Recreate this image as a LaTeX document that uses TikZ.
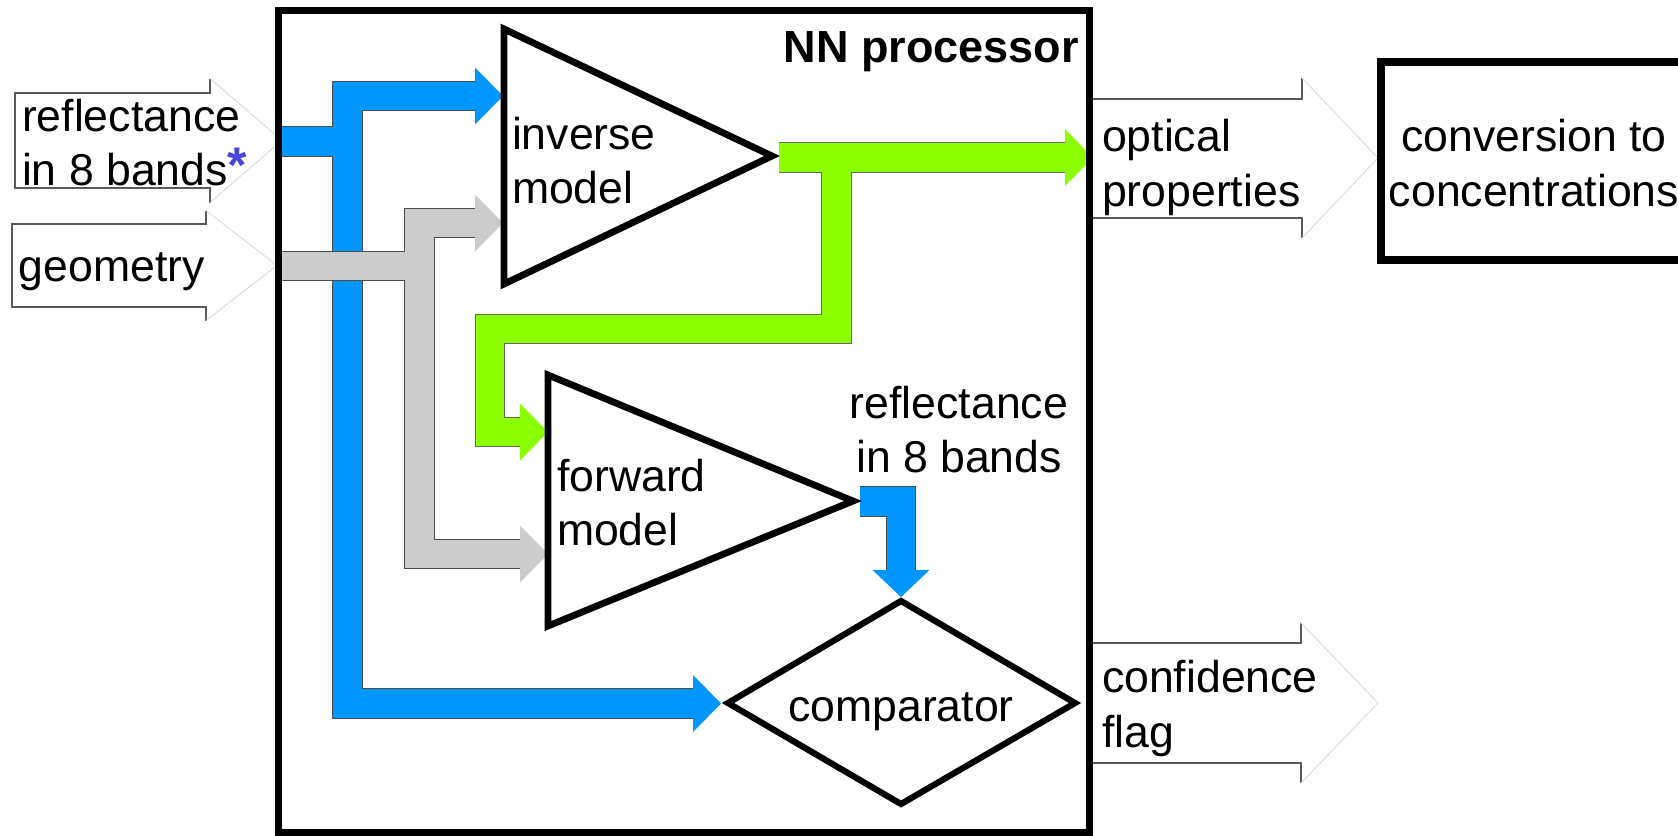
\documentclass[tikz,border=0pt]{standalone}
\usepackage{fontspec}
\setmainfont{Liberation Sans}
\usetikzlibrary{calc}
\definecolor{flowblue}{RGB}{0,150,255}
\definecolor{flowgreen}{RGB}{140,255,0}
\definecolor{flowgray}{RGB}{204,204,204}
\definecolor{astblue}{RGB}{70,70,220}
\definecolor{edgegray}{RGB}{90,90,90}
\definecolor{tipgray}{RGB}{215,215,215}
\newcommand{\flowheadR}[2]{\fill[#1] ($(#2)+(-28,-28.5)$) -- (#2) -- ($(#2)+(-28,28.5)$) -- cycle;}
\newcommand{\flowheadD}[2]{\fill[#1] ($(#2)+(-28.5,-27)$) -- (#2) -- ($(#2)+(28.5,-27)$) -- cycle;}
\begin{document}
\begin{tikzpicture}[x=1pt,y=-1pt,
  lbl/.style={font=\fontsize{44.6pt}{52pt}\selectfont, inner sep=0pt, outer sep=0pt},
  blockline/.style={line width=6.8pt, line join=miter, draw=black},
  bandout/.style={line width=30.5pt, draw=black!70, line join=miter, line cap=butt},
  band/.style={line width=28.5pt, draw=#1, line join=miter, line cap=butt},
  ioedge/.style={draw=edgegray, line width=1.2pt},
  iotip/.style={draw=tipgray, line width=0.8pt},
]
\useasboundingbox (0,0) rectangle (1678,835);
\clip (0,0) rectangle (1678,835);
\fill[white] (0,0) rectangle (1678,835);

% ---- shape coordinates
\coordinate (invTL) at (504,29);
\coordinate (invBL) at (504,284);
\coordinate (invTip) at (772,156);
\coordinate (fwdTL) at (548,375);
\coordinate (fwdBL) at (548,626);
\coordinate (fwdTip) at (853,501);
\coordinate (cmpW) at (728,703);
\coordinate (cmpN) at (901,601);
\coordinate (cmpE) at (1075,703);
\coordinate (cmpS) at (901,804);

% ---- flow coordinates
\coordinate (inRef) at (279,141.5);
\coordinate (bJoin) at (347.5,141.5);
\coordinate (bUp) at (347.5,96);
\coordinate (bUpEnd) at (476,96);
\coordinate (bUpTip) at (503,96);
\coordinate (bDownTop) at (347.5,130);
\coordinate (bDown) at (347.5,703.5);
\coordinate (bDownEnd) at (694,703.5);
\coordinate (bDownTip) at (721,703.5);

\coordinate (inGeo) at (279,266);
\coordinate (gJoin) at (419.5,266);
\coordinate (gUp) at (419.5,223);
\coordinate (gUpEnd) at (476,223);
\coordinate (gUpTip) at (503,223);
\coordinate (gDownTop) at (419.5,255);
\coordinate (gDown) at (419.5,554);
\coordinate (gDownEnd) at (521,554);
\coordinate (gDownTip) at (548,554);

\coordinate (grStart) at (779,157.5);
\coordinate (grEnd) at (1066,157.5);
\coordinate (grTip) at (1093,157.5);
\coordinate (fbTop) at (836.5,165);
\coordinate (fb1) at (836.5,329);
\coordinate (fb2) at (490,329);
\coordinate (fb3) at (490,432);
\coordinate (fbEnd) at (521,432);
\coordinate (fbTip) at (548,432);

\coordinate (sStart) at (860,501.5);
\coordinate (sCorner) at (901,501.5);
\coordinate (sEnd) at (901,571);
\coordinate (sTip) at (901,597);

% ---- input / output outline arrows
\draw[ioedge] (210,78.5) -- (210,93) -- (15,93) -- (15,188) -- (210,188) -- (210,202.5);
\draw[iotip] (210,78.5) -- (282,140.5) -- (210,202.5);
\draw[ioedge] (206,210.5) -- (206,224) -- (12,224) -- (12,307) -- (206,307) -- (206,320.5);
\draw[iotip] (206,210.5) -- (277,265.5) -- (206,320.5);
\draw[ioedge] (1302,78) -- (1302,99) -- (1089,99);
\draw[ioedge] (1089,218) -- (1302,218) -- (1302,238);
\draw[iotip] (1302,78) -- (1378,158) -- (1302,238);
\draw[ioedge] (1301,623) -- (1301,643) -- (1089,643);
\draw[ioedge] (1089,763) -- (1301,763) -- (1301,783);
\draw[iotip] (1301,623) -- (1378,703) -- (1301,783);

% ---- blue flows
\draw[bandout] (inRef) -- (bJoin) -- (bUp) -- (bUpEnd);
\draw[bandout] (bDownTop) -- (bDown) -- (bDownEnd);
\draw[bandout] (sStart) -- (sCorner) -- (sEnd);
\draw[band=flowblue] (inRef) -- (bJoin) -- (bUp) -- (bUpEnd);
\draw[band=flowblue] (bDownTop) -- (bDown) -- (bDownEnd);
\draw[band=flowblue] (sStart) -- (sCorner) -- (sEnd);
\flowheadR{flowblue}{bUpTip}
\flowheadR{flowblue}{bDownTip}
\flowheadD{flowblue}{sTip}

% ---- gray flows
\draw[bandout] (inGeo) -- (gJoin) -- (gUp) -- (gUpEnd);
\draw[bandout] (gDownTop) -- (gDown) -- (gDownEnd);
\draw[band=flowgray] (inGeo) -- (gJoin) -- (gUp) -- (gUpEnd);
\draw[band=flowgray] (gDownTop) -- (gDown) -- (gDownEnd);
\flowheadR{flowgray}{gUpTip}
\flowheadR{flowgray}{gDownTip}

% ---- green flows
\draw[bandout, draw=black!60] (grStart) -- (grEnd);
\draw[bandout, draw=black!60] (fbTop) -- (fb1) -- (fb2) -- (fb3) -- (fbEnd);
\draw[band=flowgreen] (grStart) -- (grEnd);
\draw[band=flowgreen] (fbTop) -- (fb1) -- (fb2) -- (fb3) -- (fbEnd);
\flowheadR{flowgreen}{grTip}
\flowheadR{flowgreen}{fbTip}

% ---- blocks
\draw[blockline, fill=white] (invTL) -- (invTip) -- (invBL) -- cycle;
\draw[blockline, fill=white] (fwdTL) -- (fwdTip) -- (fwdBL) -- cycle;
\draw[blockline, line width=6.2pt, fill=white] (cmpW) -- (cmpN) -- (cmpE) -- (cmpS) -- cycle;
\draw[line width=7pt] (278,10) rectangle (1089,832);
\draw[line width=7.5pt] (1381,62) rectangle (1720,260);

% ---- labels
\node[lbl, font=\fontsize{45pt}{52pt}\selectfont\bfseries, anchor=base east] (title) at (1079,62) {NN processor};
\node[lbl, anchor=base west] (invA) at (512,149) {inverse};
\node[lbl, anchor=base west] (invB) at (512,203) {model};
\node[lbl, anchor=base west] (fwdA) at (557,491) {forward};
\node[lbl, anchor=base west] (fwdB) at (557,545) {model};
\node[lbl, anchor=base] (outA) at (959,418) {reflectance};
\node[lbl, anchor=base] (outB) at (959,472) {in 8 bands};
\node[lbl, anchor=base] (cmpText) at (901,721) {comparator};
\node[lbl, anchor=base west] (optA) at (1102,151) {optical};
\node[lbl, anchor=base west] (optB) at (1102,206) {properties};
\node[lbl, anchor=base west] (cfA) at (1102,692) {confidence};
\node[lbl, anchor=base west] (cfB) at (1102,747) {flag};
\node[lbl, anchor=base] (convA) at (1534,151) {conversion to};
\node[lbl, anchor=base] (convB) at (1534,206) {concentrations};
\node[lbl, anchor=base west] (inA) at (22,131) {reflectance};
\node[lbl, anchor=base west] (inB) at (22,185) {in 8 bands\raisebox{3pt}{\color{astblue}\bfseries\fontsize{50pt}{52pt}\selectfont *}};
\node[lbl, anchor=base west] (geo) at (19,281) {geometry};
\end{tikzpicture}
\end{document}
